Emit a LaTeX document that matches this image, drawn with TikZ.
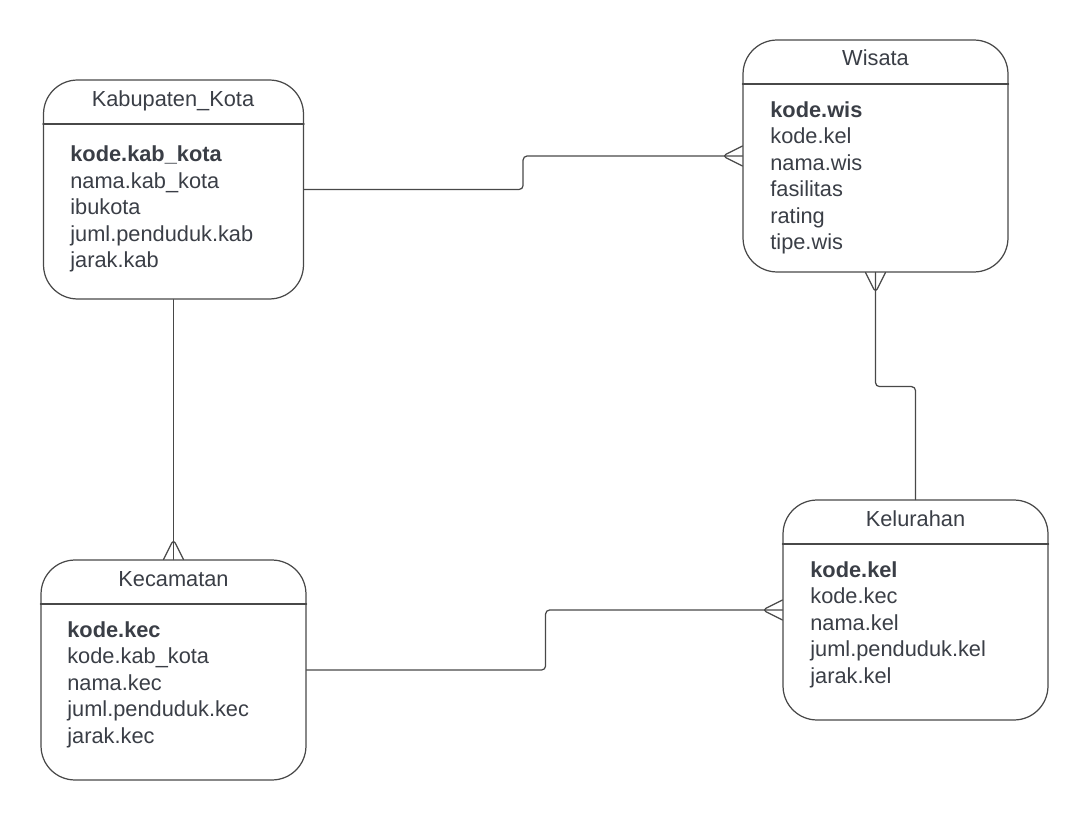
\documentclass[tikz,border=0pt]{standalone}
\usepackage{fontspec}
\setmainfont{Liberation Sans}
\definecolor{ink}{RGB}{58,62,70}
\definecolor{edge}{RGB}{72,72,72}
\tikzset{
	entity/.style={draw=edge, line width=0.7pt, rounded corners=0.68cm, minimum width=5.3cm, inner sep=0},
	title/.style={anchor=base, inner sep=0, text=ink, font=\fontsize{12.4}{15}\selectfont},
	attr/.style={anchor=base west, inner sep=0, text=ink, font=\fontsize{12.4}{15}\selectfont},
	link/.style={draw=edge, line width=0.7pt, rounded corners=0.08cm},
}
\begin{document}
\begin{tikzpicture}[x=0.02cm, y=-0.02cm, line join=round, line cap=round]
				\useasboundingbox (0,0) rectangle (1088,820);
				% entities
				\node[entity, minimum width=5.2cm, minimum height=4.38cm] (kab) at (173.5,189.5) {};
				\node[entity, minimum height=4.64cm] (wis) at (875.5,156) {};
				\node[entity, minimum height=4.4cm] (kel) at (915.5,610) {};
				\node[entity, minimum height=4.4cm] (kec) at (173.5,670) {};
				% header lines
				\coordinate (kabH) at (0,124);
				\coordinate (wisH) at (0,84);
				\coordinate (kelH) at (0,544);
				\coordinate (kecH) at (0,604);
				\draw[edge, line width=0.7pt] (kab.west |- kabH) -- (kab.east |- kabH);
				\draw[edge, line width=0.7pt] (wis.west |- wisH) -- (wis.east |- wisH);
				\draw[edge, line width=0.7pt] (kel.west |- kelH) -- (kel.east |- kelH);
				\draw[edge, line width=0.7pt] (kec.west |- kecH) -- (kec.east |- kecH);
				% titles
				\node[title] (kabT) at (173,106.5) {Kabupaten\_Kota};
				\node[title] (wisT) at (875.5,66) {Wisata};
				\node[title] (kelT) at (915.5,526) {Kelurahan};
				\node[title] (kecT) at (173.5,586) {Kecamatan};
				% attributes
				\foreach \t [count=\i] in {{\bfseries kode.kab\_kota},nama.kab\_kota,ibukota,juml.penduduk.kab,jarak.kab}
				\node[attr] (kab\i) at (70,{161.8+26.5*(\i-1)}) {\t};
				\foreach \t [count=\i] in {{\bfseries kode.wis},kode.kel,nama.wis,fasilitas,rating,tipe.wis}
				\node[attr] (wis\i) at (770,{117.3+26.5*(\i-1)}) {\t};
				\foreach \t [count=\i] in {{\bfseries kode.kel},kode.kec,nama.kel,juml.penduduk.kel,jarak.kel}
				\node[attr] (kel\i) at (810,{577.3+26.5*(\i-1)}) {\t};
				\foreach \t [count=\i] in {{\bfseries kode.kec},kode.kab\_kota,nama.kec,juml.penduduk.kec,jarak.kec}
				\node[attr] (kec\i) at (67,{637.3+26.5*(\i-1)}) {\t};
				% relations
				\draw[link] (kab.east) -- ++(219,0) |- (wis.west);
				\draw[link] (wis.south) -- ++(0,114) -| (kel.north);
				\draw[link] (kab.south) -- (kec.north);
				\draw[link] (kec.east) -- ++(239,0) |- (kel.west);
				% crow's feet
				\draw[link] (wis.west) ++(0,-10) -- ++(-20,10) -- ++(20,10);
				\draw[link] (wis.south) ++(-10,0) -- ++(10,20) -- ++(10,-20);
				\draw[link] (kec.north) ++(-10,0) -- ++(10,-20) -- ++(10,20);
				\draw[link] (kel.west) ++(0,-10) -- ++(-20,10) -- ++(20,10);
			\end{tikzpicture}
\end{document}
